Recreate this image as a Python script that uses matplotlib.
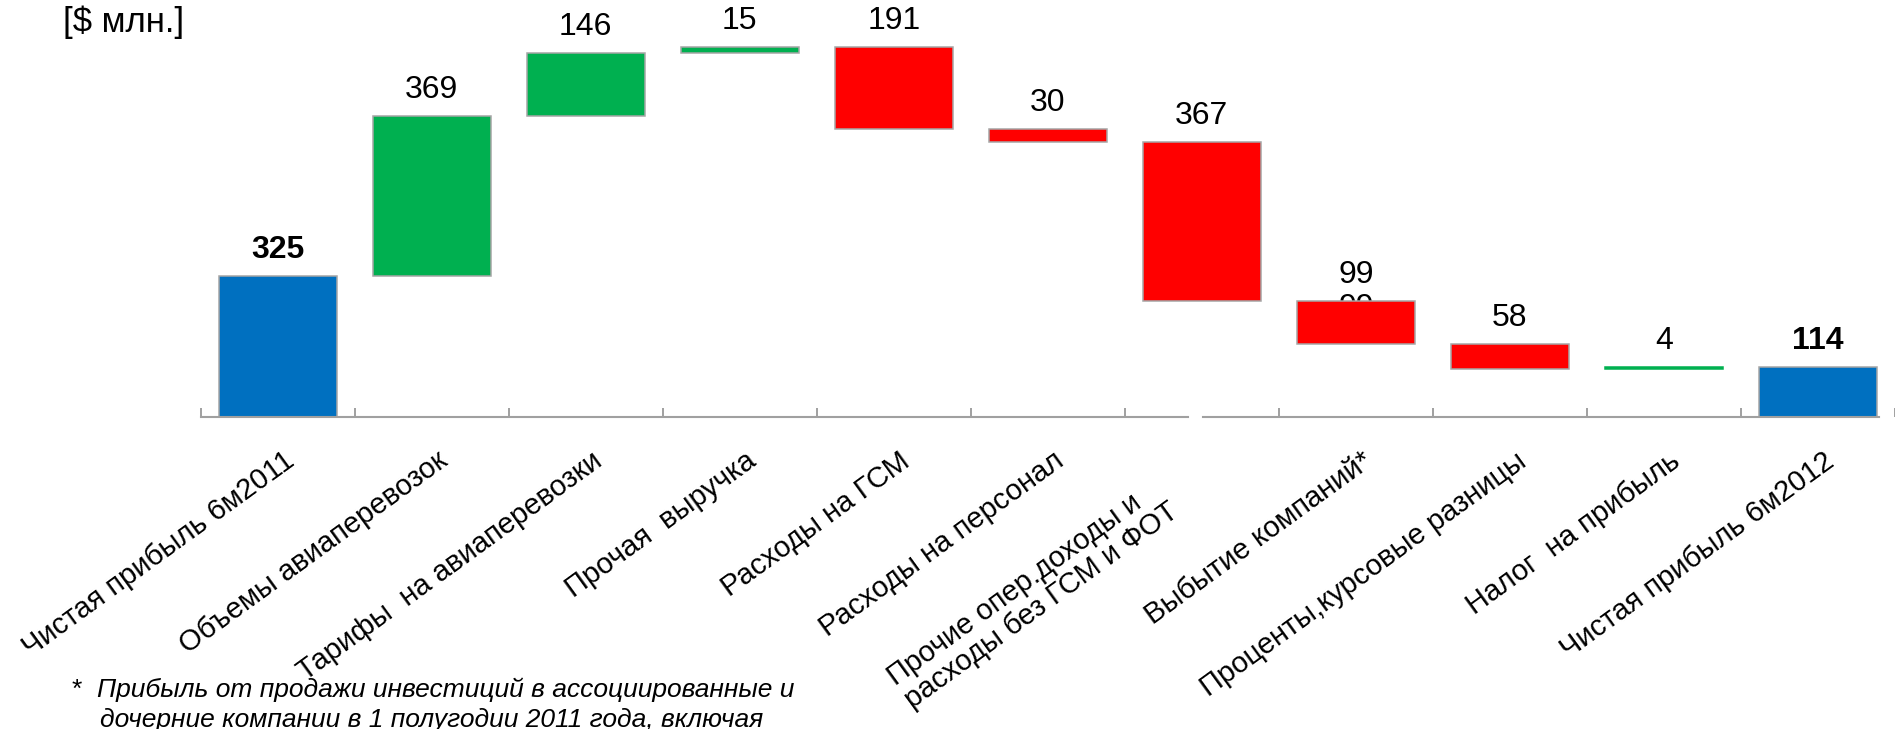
import numpy as np
import matplotlib.pyplot as plt

plt.rcParams['font.family'] = ['Liberation Sans', 'DejaVu Sans']

# исходные данные: прибыль 6м2011 -> 6м2012, $ млн.
categories = ['Чистая прибыль 6м2011', 'Объемы авиаперевозок', 'Тарифы  на авиаперевозки',
              'Прочая  выручка', 'Расходы на ГСМ', 'Расходы на персонал',
              'Прочие опер.доходы и\nрасходы без ГСМ и ФОТ', 'Выбытие компаний*',
              'Проценты,курсовые разницы', 'Налог  на прибыль', 'Чистая прибыль 6м2012']
values = [325, 369, 146, 15, -191, -30, -367, -99, -58, 4, 114]
is_total = [True, False, False, False, False, False, False, False, False, False, True]

footnote_1 = 'Прибыль от продажи инвестиций в ассоциированные и'
footnote_2 = 'дочерние компании в 1 полугодии 2011 года, включая'

BLUE, GREEN, RED = '#0070C0', '#00B050', '#FF0000'
EDGE = '#A6A6A6'
AXIS = '#A0A0A0'

# считаем водопад
bottoms, heights, colors, tops = [], [], [], []
level = 0
for v, tot in zip(values, is_total):
    if tot:
        bottoms.append(0)
        heights.append(v)
        colors.append(BLUE)
        level = v
    elif v >= 0:
        bottoms.append(level)
        heights.append(v)
        colors.append(GREEN)
        level += v
    else:
        bottoms.append(level + v)
        heights.append(-v)
        colors.append(RED)
        level += v
    tops.append(bottoms[-1] + heights[-1])

fig = plt.figure(figsize=(18.95, 7.29), dpi=100)
ax = fig.add_axes([0.1059, 0.4284, 0.8941, 0.5716])

x = np.arange(len(values))
edges = [EDGE if h > 10 else c for h, c in zip(heights, colors)]
ax.bar(x, heights, bottom=bottoms, width=0.767, color=colors,
       edgecolor=edges, linewidth=1.1, zorder=2)

ax.set_xlim(-0.5, 10.396)
ax.set_ylim(0, 962.6)

# подписи значений
for i, (v, t) in enumerate(zip(values, tops)):
    ax.annotate(str(abs(v)), (i, t), xytext=(0, 13), textcoords='offset points',
                ha='center', va='baseline', fontsize=23,
                fontweight='bold' if is_total[i] else 'normal',
                annotation_clip=False, zorder=3)
# вторая подпись "99", почти скрытая столбиком
ax.annotate(str(abs(values[7])), (7, tops[7]), xytext=(0, -11), textcoords='offset points',
            ha='center', va='baseline', fontsize=23, annotation_clip=False, zorder=1)

# ось категорий
for s in ax.spines.values():
    s.set_visible(False)
ax.set_yticks([])
ax.set_xticks(np.arange(-0.5, len(values)))
ax.tick_params(axis='x', direction='in', length=6.5, width=1.4, color=AXIS, labelbottom=False)
trans = ax.get_xaxis_transform()
ax.plot([-0.5, 5.913], [0, 0], color=AXIS, lw=1.5, transform=trans, clip_on=False, zorder=4)
ax.plot([6.010, 10.396], [0, 0], color=AXIS, lw=1.5, transform=trans, clip_on=False, zorder=4)

for i, name in enumerate(categories):
    dx, dy = 3.6, -21.6
    if '\n' in name:
        dx, dy = -37.5, -41.0
    ax.annotate(name, (i, 0), xytext=(dx, dy), textcoords='offset points',
                rotation=36, rotation_mode='anchor', ha='right', va='top',
                multialignment='left', linespacing=1.05, fontsize=21,
                annotation_clip=False)

fig.text(63 / 1895, 1 - 22 / 729, '[$ млн.]', fontsize=25, va='center', ha='left')

fig.text(72 / 1895, 1 - 697 / 729, '*', fontsize=19, va='baseline', ha='left')
fig.text(97 / 1895, 1 - 697 / 729, footnote_1, fontsize=19, style='italic', va='baseline', ha='left')
fig.text(100 / 1895, 1 - 727 / 729, footnote_2, fontsize=19, style='italic', va='baseline', ha='left')

fig.savefig('out.png', dpi=100)
